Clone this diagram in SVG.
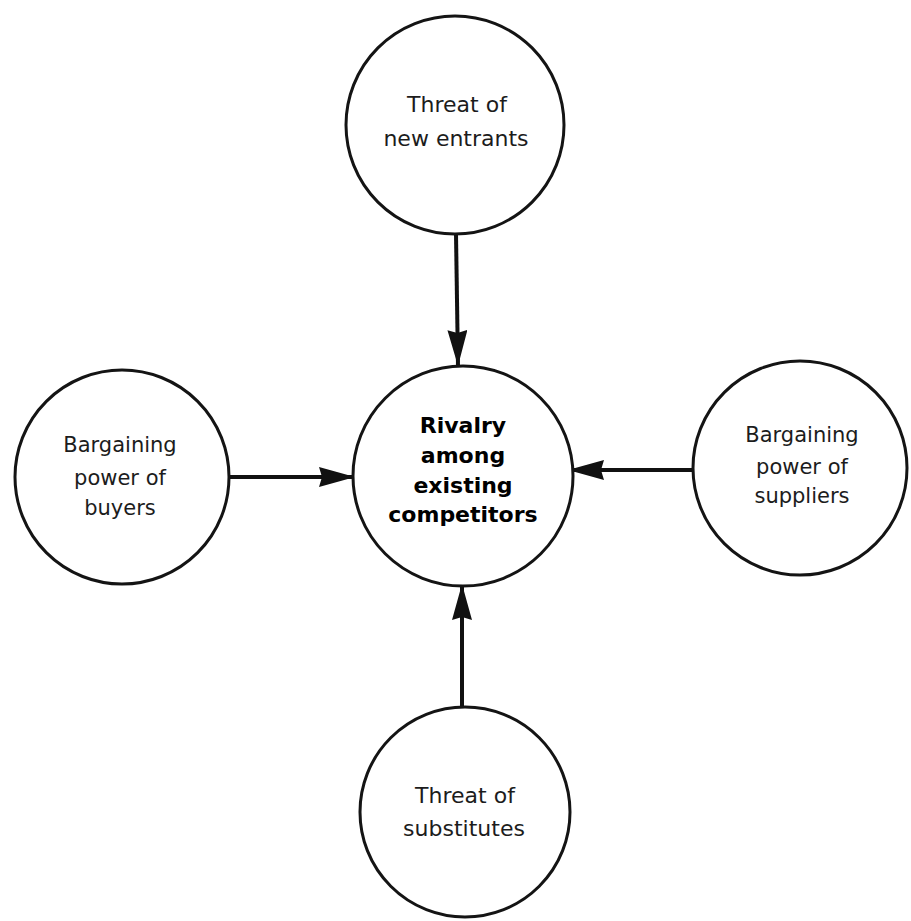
<svg xmlns="http://www.w3.org/2000/svg" width="911" height="921" viewBox="0 0 911 921">
  <style>
    .node { fill: #ffffff; stroke: #141414; stroke-width: 3; }
    .label { font-family: "DejaVu Sans", "Liberation Sans", sans-serif; font-size: 21px; fill: #1c1c1c; text-anchor: middle; }
    .big { font-size: 22px; }
    .bold { font-weight: bold; font-size: 22px; fill: #000000; }
    .conn { stroke: #111111; stroke-width: 4; fill: none; marker-end: url(#head); }
  </style>
  <defs>
    <marker id="head" viewBox="0 0 36 20" refX="36" refY="10" markerWidth="36" markerHeight="20" markerUnits="userSpaceOnUse" orient="auto">
      <path d="M0,0 L36,10 L0,20 L3,10 Z" fill="#111111"/>
    </marker>
  </defs>
  <rect width="911" height="921" fill="#ffffff"/>

  <g id="connectors">
    <line class="conn" x1="456" y1="234" x2="458" y2="366"/>
    <line class="conn" x1="229" y1="477" x2="355" y2="477"/>
    <line class="conn" x1="693" y1="470" x2="568" y2="470"/>
    <line class="conn" x1="462" y1="707" x2="462" y2="584"/>
  </g>

  <g id="new-entrants">
    <circle class="node" cx="455" cy="125" r="109"/>
    <text class="label big" x="457" y="112">Threat of</text>
    <text class="label big" x="456" y="146">new entrants</text>
  </g>

  <g id="rivalry">
    <circle class="node" cx="463" cy="476" r="110"/>
    <text class="label bold" x="463" y="433">Rivalry</text>
    <text class="label bold" x="463" y="463">among</text>
    <text class="label bold" x="463" y="493">existing</text>
    <text class="label bold" x="463" y="522">competitors</text>
  </g>

  <g id="buyers">
    <circle class="node" cx="122" cy="477" r="107"/>
    <text class="label" x="120" y="452">Bargaining</text>
    <text class="label" x="120" y="485">power of</text>
    <text class="label" x="120" y="515">buyers</text>
  </g>

  <g id="suppliers">
    <circle class="node" cx="800" cy="468" r="107"/>
    <text class="label" x="802" y="442">Bargaining</text>
    <text class="label" x="802" y="474">power of</text>
    <text class="label" x="802" y="503">suppliers</text>
  </g>

  <g id="substitutes">
    <circle class="node" cx="465" cy="812" r="105"/>
    <text class="label big" x="465" y="803">Threat of</text>
    <text class="label big" x="464" y="836">substitutes</text>
  </g>
</svg>
